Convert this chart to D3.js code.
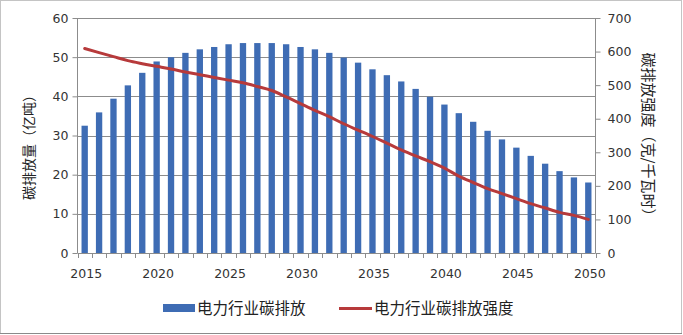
<!DOCTYPE html>
<html><head><meta charset="utf-8">
<script src="https://cdn.jsdelivr.net/npm/d3@7"></script>
<style>html,body{margin:0;padding:0;background:#fff}svg{display:block}</style>
</head><body>
<script>
const years = d3.range(2015, 2051).map(String);
const emissions = [32.5, 35.9, 39.4, 42.8, 46.0, 48.9, 50.0, 51.1, 52.0, 52.6, 53.3, 53.6, 53.6, 53.6, 53.3, 52.6, 52.0, 51.1, 49.9, 48.6, 46.9, 45.4, 43.8, 41.9, 39.9, 37.9, 35.7, 33.5, 31.2, 29.0, 26.9, 24.8, 22.8, 20.9, 19.3, 18.0];
const intensity = [609, 597, 585, 573, 564, 556, 548, 539, 531, 523, 515, 507, 496, 484, 465, 445, 425, 406, 385, 366, 347, 327, 307, 289, 272, 253, 229, 210, 192, 177, 162, 147, 134, 121, 112, 100];
const leftTicks = [0, 10, 20, 30, 40, 50, 60];
const rightTicks = [0, 100, 200, 300, 400, 500, 600, 700];
const xLabelYears = ["2015","2020","2025","2030","2035","2040","2045","2050"];
const seriesNames = ["电力行业碳排放", "电力行业碳排放强度"];
const axisTitles = ["碳排放量（亿吨）", "碳排放强度（克/千瓦时）"];

const W = 683, H = 335;
const m = {left: 77.5, right: 595.5, top: 18, bottom: 253};
const barColor = "#3e6cb4", lineColor = "#b73a3b", gridColor = "#8c8c8c", textColor = "#333";
const numFont = "DejaVu Sans", cjkFont = "Noto Sans CJK SC";

const svg = d3.select("body").append("svg").attr("width", W).attr("height", H);

// border
svg.append("rect").attr("x", 0.5).attr("y", 0.5).attr("width", W - 2).attr("height", H - 2)
  .attr("fill", "none").attr("stroke", "#c4c4c4");
svg.append("line").attr("x1", 0).attr("x2", W - 1).attr("y1", H - 1.5).attr("y2", H - 1.5)
  .attr("stroke", "#8a8a8a").attr("stroke-width", 1);

const x = d3.scaleBand().domain(years).range([m.left, m.right]).paddingInner(0.56).paddingOuter(0.28);
const yL = d3.scaleLinear().domain([0, 60]).range([m.bottom, m.top]);
const yR = d3.scaleLinear().domain([0, 700]).range([m.bottom, m.top]);

// gridlines
svg.append("g").selectAll("line").data(leftTicks).join("line")
  .attr("x1", m.left).attr("x2", m.right)
  .attr("y1", d => Math.round(yL(d)) + 0.5).attr("y2", d => Math.round(yL(d)) + 0.5)
  .attr("stroke", gridColor).attr("stroke-width", 1);

// bars
svg.append("g").selectAll("rect").data(emissions).join("rect")
  .attr("x", (d, i) => x(years[i])).attr("width", x.bandwidth())
  .attr("y", d => yL(d)).attr("height", d => yL(0) - yL(d))
  .attr("fill", barColor);

// left axis
const gL = svg.append("g").attr("transform", `translate(${m.left},0)`)
  .call(d3.axisLeft(yL).tickValues(leftTicks).tickSize(5).tickPadding(4));
// right axis
const gR = svg.append("g").attr("transform", `translate(${m.right},0)`)
  .call(d3.axisRight(yR).tickValues(rightTicks).tickSize(5).tickPadding(7));
[gL, gR].forEach(g => {
  g.selectAll(".tick line").attr("stroke", gridColor);
  g.selectAll("text").attr("fill", textColor).style("font-family", numFont).style("font-size", "12.5px");
});
gL.select(".domain").remove();
gR.select(".domain").remove();
svg.append("line").attr("x1", m.left).attr("x2", m.left).attr("y1", m.top).attr("y2", m.bottom).attr("stroke", gridColor);
svg.append("line").attr("x1", m.right).attr("x2", m.right).attr("y1", m.top).attr("y2", m.bottom).attr("stroke", gridColor);

// x axis: ticks between categories
const step = x.step();
const boundaries = years.map(y => x(y) - (step - x.bandwidth()) / 2).concat([m.right]);
svg.append("g").selectAll("line").data(boundaries).join("line")
  .attr("x1", d => Math.round(d) + 0.5).attr("x2", d => Math.round(d) + 0.5)
  .attr("y1", m.bottom).attr("y2", m.bottom + 5).attr("stroke", gridColor);
svg.append("g").selectAll("text").data(xLabelYears).join("text")
  .attr("x", d => x(d) + x.bandwidth() / 2 + 1.5).attr("y", 278)
  .attr("text-anchor", "middle").attr("fill", textColor)
  .style("font-family", numFont).style("font-size", "12.5px").text(d => d);

// line
const line = d3.line().x((d, i) => x(years[i]) + x.bandwidth() / 2).y(d => yR(d)).curve(d3.curveMonotoneX);
svg.append("path").datum(intensity).attr("d", line)
  .attr("fill", "none").attr("stroke", lineColor).attr("stroke-width", 3).attr("stroke-linecap", "round");

// axis titles
svg.append("text").attr("transform", `translate(34,144) rotate(-90)`)
  .attr("text-anchor", "middle").attr("fill", "#222")
  .style("font-family", cjkFont).style("font-size", "14px").text(axisTitles[0]);
svg.append("text").attr("transform", `translate(643,138) rotate(90)`)
  .attr("text-anchor", "middle").attr("fill", "#222")
  .style("font-family", cjkFont).style("font-size", "15px").text(axisTitles[1]);

// legend
const lg = svg.append("g");
lg.append("rect").attr("x", 163).attr("y", 304).attr("width", 32).attr("height", 8).attr("fill", barColor);
lg.append("text").attr("x", 197).attr("y", 313.5).attr("fill", "#222")
  .style("font-family", cjkFont).style("font-size", "15.5px").text(seriesNames[0]);
lg.append("line").attr("x1", 339).attr("x2", 372).attr("y1", 308.5).attr("y2", 308.5)
  .attr("stroke", lineColor).attr("stroke-width", 3);
lg.append("text").attr("x", 374).attr("y", 313.5).attr("fill", "#222")
  .style("font-family", cjkFont).style("font-size", "15.5px").text(seriesNames[1]);
</script>
</body></html>
